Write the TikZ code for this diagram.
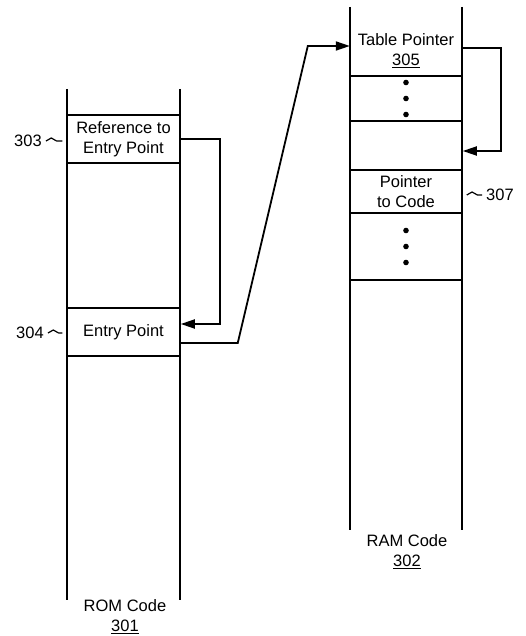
\documentclass[tikz,border=0pt]{standalone}
\usepackage{fontspec}
\setmainfont{Liberation Sans}
\usetikzlibrary{arrows.meta,calc,decorations.pathmorphing}

\begin{document}
\begin{tikzpicture}[
  x=1pt, y=-1pt,
  font=\fontsize{16.5}{20}\selectfont,
  cell/.style={draw=black, line width=1.5pt, minimum width=113pt, inner sep=0pt, align=center},
  col/.style={line width=2.2pt},
  arrow/.style={-{Triangle[length=14pt,width=9pt]}, line width=1.8pt},
  lead/.style={line width=1.2pt, decorate, decoration={snake, amplitude=3pt, segment length=17pt}},
  num/.style={inner sep=1pt},
  title/.style={align=center, inner sep=0pt}
]
  \useasboundingbox (0,0) rectangle (526,636);

  % --- ROM code column ---
  \draw[col] (67,89) -- (67,600);
  \draw[col] (180,89) -- (180,600);
  \node[cell, minimum height=48pt] (ref) at (123.5,139) {Reference to\\Entry Point};
  \node[cell, minimum height=48pt] (entry) at (123.5,332) {Entry Point};
  \node[title] (rom) at (125,617) {ROM Code\\\underline{301}};

  % --- RAM code column ---
  \draw[col] (350,7) -- (350,530);
  \draw[col] (462,7) -- (462,530);
  \node[align=center, inner sep=0pt, minimum width=112pt] (tp) at (406,51) {Table Pointer\\\underline{305}};
  \node[cell, minimum width=112pt, minimum height=45pt] (dots1) at (406,98.5) {};
  \node[cell, minimum width=112pt, minimum height=49pt] (blank) at (406,145.5) {};
  \node[cell, minimum width=112pt, minimum height=43pt] (ptc) at (406,191.5) {Pointer\\to Code};
  \node[cell, minimum width=112pt, minimum height=67pt] (dots2) at (406,246.5) {};
  \node[title] (ram) at (407,552) {RAM Code\\\underline{302}};
  \foreach \d in {-16,0,16} {
    \fill ([yshift=\d pt]dots1.center) circle (2.8pt);
    \fill ([yshift=\d pt]dots2.center) circle (2.8pt);
  }

  % --- reference numerals ---
  \node[num] (l303) at (28,141) {303};
  \node[num] (l304) at (30,333) {304};
  \node[num] (l307) at (500,195) {307};
  \draw[lead] ($(l303.east)+(3,0)$) -- ($(ref.west |- l303.east)+(-4,0)$);
  \draw[lead] ($(l304.east)+(3,0)$) -- ($(entry.west |- l304.east)+(-4,0)$);
  \draw[lead] ($(ptc.east |- l307.west)+(4,0)$) -- ($(l307.west)+(-3,0)$);

  % --- pointers ---
  \coordinate (tpin) at ([yshift=5pt]tp.west);
  \draw[arrow] (ref.east) -- ++(39,0) |- ([yshift=8pt]entry.east);
  \draw[arrow] ([yshift=-11pt]entry.east) -- ++(57,0) -- ($(tpin)+(-42,0)$) -- (tpin);
  \draw[arrow] ([yshift=3pt]tp.east) -- ++(39,0) |- ([yshift=-5.5pt]blank.east);

\end{tikzpicture}
\end{document}
